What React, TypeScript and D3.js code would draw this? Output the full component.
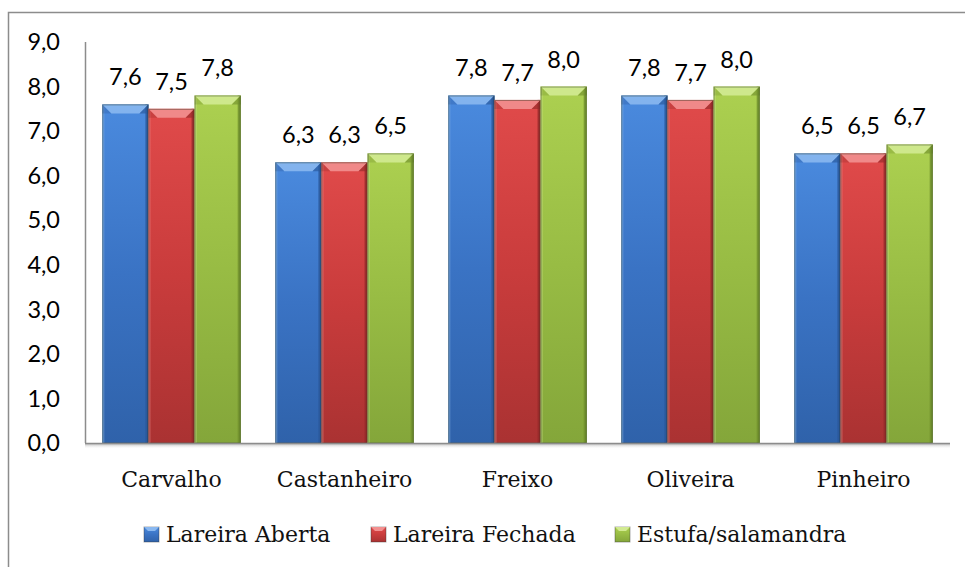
import { useRef, useEffect } from "react";
import * as d3 from "d3";

const categories = ["Carvalho", "Castanheiro", "Freixo", "Oliveira", "Pinheiro"];
const seriesNames = ["Lareira Aberta", "Lareira Fechada", "Estufa/salamandra"];
const lareiraAberta = [7.6, 6.3, 7.8, 7.8, 6.5];
const lareiraFechada = [7.5, 6.3, 7.7, 7.7, 6.5];
const estufa = [7.8, 6.5, 8.0, 8.0, 6.7];
const yTicks = [0, 1, 2, 3, 4, 5, 6, 7, 8, 9];

const palette = [
  { top: "#4a8ade", base: "#3a73c4", bottom: "#2f62aa", bevel: "#8ab8f0", side: "#2a5799" },
  { top: "#e04a4a", base: "#c93c3c", bottom: "#aa3232", bevel: "#f29090", side: "#942a2a" },
  { top: "#acd050", base: "#98bc44", bottom: "#84a63a", bevel: "#d2ea92", side: "#71902e" },
];

export default function App() {
  const ref = useRef<SVGSVGElement>(null);
  useEffect(() => {
    if (!ref.current) return;
    const svg = d3.select(ref.current);
    svg.selectAll("*").remove();
    const W = 965, H = 567;
    svg.attr("width", W).attr("height", H);
    const margin = { top: 42, right: 15, bottom: 124, left: 85 };
    const series = [lareiraAberta, lareiraFechada, estufa];

    const defs = svg.append("defs");
    palette.forEach((p, i) => {
      const lg = defs.append("linearGradient").attr("id", `g${i}`).attr("x1", 0).attr("y1", 0).attr("x2", 0).attr("y2", 1);
      lg.append("stop").attr("offset", "0%").attr("stop-color", p.top);
      lg.append("stop").attr("offset", "50%").attr("stop-color", p.base);
      lg.append("stop").attr("offset", "100%").attr("stop-color", p.bottom);
    });
    const sh = defs.append("linearGradient").attr("id", "shadow").attr("x1", 0).attr("y1", 0).attr("x2", 0).attr("y2", 1);
    sh.append("stop").attr("offset", "0%").attr("stop-color", "#999").attr("stop-opacity", 0.6);
    sh.append("stop").attr("offset", "100%").attr("stop-color", "#fff").attr("stop-opacity", 0);

    svg.append("rect").attr("x", 0).attr("y", 0).attr("width", W).attr("height", H).attr("fill", "#fff");
    // chart frame (right and bottom sides run off the page)
    svg.append("path").attr("d", `M8.5,${H + 2} V12.5 H${W + 2}`).attr("fill", "none").attr("stroke", "#8c8c8c").attr("stroke-width", 1.5);

    const x0 = d3.scaleBand().domain(categories).range([margin.left, W - margin.right]).paddingInner(0.2).paddingOuter(0.1);
    const x1 = d3.scaleBand().domain(seriesNames).range([0, x0.bandwidth()]);
    const y = d3.scaleLinear().domain([0, 9]).range([H - margin.bottom, margin.top]);

    // y tick labels
    svg.append("g").selectAll("text").data(yTicks).join("text")
      .attr("x", 60).attr("y", d => y(d)).attr("dy", "0.35em").attr("text-anchor", "end")
      .attr("font-family", "Lato, 'Open Sans', sans-serif").attr("font-size", 23.5).attr("fill", "#000")
      .text(d => d.toFixed(1).replace(".", ","));

    // shadow under x axis
    svg.append("rect").attr("x", margin.left).attr("y", y(0) + 1).attr("width", W - margin.right - margin.left).attr("height", 5).attr("fill", "url(#shadow)");

    const bev = 9;
    series.forEach((vals, si) => {
      const p = palette[si];
      const g = svg.append("g");
      const bars = g.selectAll("g").data(vals).join("g")
        .attr("transform", (_, i) => `translate(${x0(categories[i])! + x1(seriesNames[si])!},0)`);
      const w = x1.bandwidth();
      bars.append("rect").attr("x", 0).attr("y", d => y(d)).attr("width", w).attr("height", d => y(0) - y(d)).attr("fill", `url(#g${si})`);
      // side bevels
      bars.append("rect").attr("x", 0).attr("y", d => y(d)).attr("width", 2).attr("height", d => y(0) - y(d)).attr("fill", p.bevel).attr("opacity", 0.5);
      bars.append("rect").attr("x", w - 3).attr("y", d => y(d)).attr("width", 3).attr("height", d => y(0) - y(d)).attr("fill", p.side).attr("opacity", 0.85);
      // top bevel
      bars.append("path").attr("d", d => `M0,${y(d)} H${w} L${w - bev},${y(d) + bev} H${bev} Z`).attr("fill", p.bevel).attr("opacity", 0.9);
      bars.append("path").attr("d", d => `M0,${y(d)} L${bev},${y(d) + bev} L0,${y(d) + bev} Z`).attr("fill", p.side).attr("opacity", 0.3);
      bars.append("path").attr("d", d => `M${w},${y(d)} L${w - bev},${y(d) + bev} L${w},${y(d) + bev} Z`).attr("fill", p.side).attr("opacity", 0.65);
      bars.append("rect").attr("x", 0.5).attr("y", d => y(d) + 0.5).attr("width", w - 1).attr("height", d => y(0) - y(d) - 0.5)
        .attr("fill", "none").attr("stroke", "#1e2a14").attr("stroke-opacity", 0.4).attr("stroke-width", 1);
      // value labels
      bars.append("text").attr("x", w / 2).attr("y", d => y(d) - 19).attr("text-anchor", "middle")
        .attr("font-family", "Lato, 'Open Sans', sans-serif").attr("font-size", 23.5).attr("fill", "#000")
        .text(d => d.toFixed(1).replace(".", ","));
    });

    // axes lines
    svg.append("line").attr("x1", margin.left + 0.5).attr("x2", margin.left + 0.5).attr("y1", y(9)).attr("y2", y(0)).attr("stroke", "#8c8c8c").attr("stroke-width", 1.5);
    svg.append("line").attr("x1", margin.left).attr("x2", W - margin.right).attr("y1", y(0) + 0.5).attr("y2", y(0) + 0.5).attr("stroke", "#8c8c8c").attr("stroke-width", 1.5);

    // category labels
    svg.append("g").selectAll("text").data(categories).join("text")
      .attr("x", d => x0(d)! + x0.bandwidth() / 2).attr("y", 487).attr("text-anchor", "middle")
      .attr("font-family", "'DejaVu Serif', serif").attr("font-size", 22).attr("fill", "#111").text(d => d);

    // legend
    const legendX = [144, 371, 615];
    const lg = svg.append("g").selectAll("g").data(seriesNames).join("g").attr("transform", (_, i) => `translate(${legendX[i]},527)`);
    lg.append("rect").attr("x", 0).attr("y", 0).attr("width", 15).attr("height", 15).attr("fill", (_, i) => `url(#g${i})`)
      .attr("stroke", "#333").attr("stroke-opacity", 0.4);
    lg.append("path").attr("d", "M0,0 H15 L11,4 H4 Z").attr("fill", (_, i) => palette[i].bevel);
    lg.append("text").attr("x", 22).attr("y", 15).attr("font-family", "'DejaVu Serif', serif").attr("font-size", 22).attr("fill", "#111").text(d => d);
  }, []);

  return <svg ref={ref} style={{ position: "absolute", left: 0, top: 0 }} />;
}
